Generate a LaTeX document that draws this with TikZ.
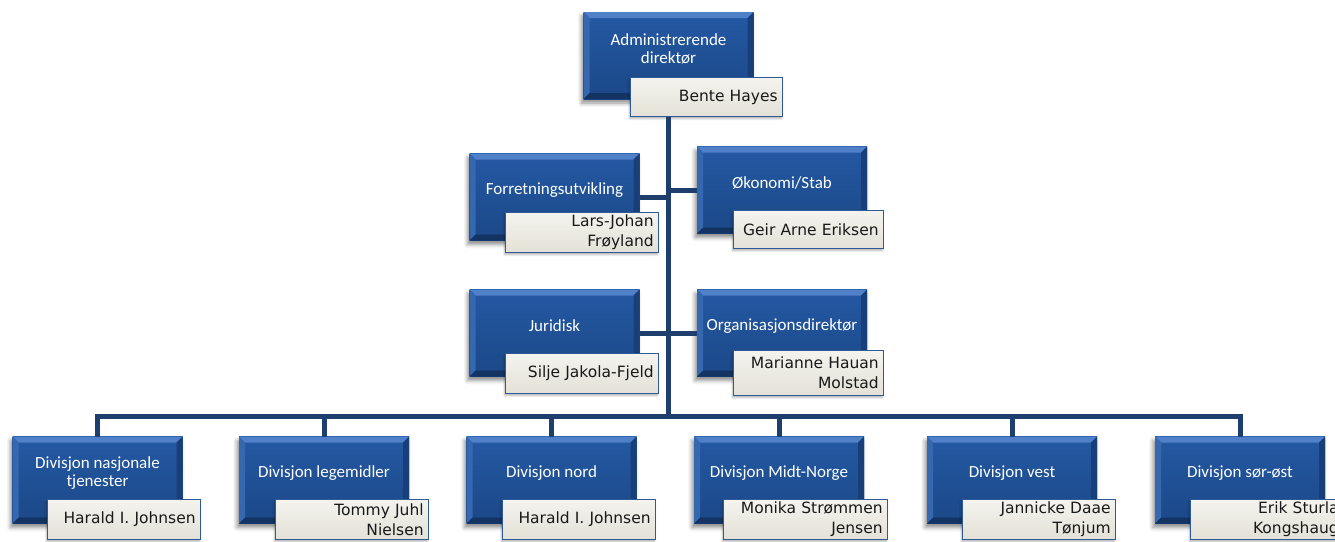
\documentclass[tikz,border=0pt]{standalone}
\usepackage{fontspec}
\setmainfont{Carlito}
\newfontfamily\namefont{DejaVu Sans}
\usetikzlibrary{shadows.blur}

\definecolor{faceTop}{HTML}{2459A4}
\definecolor{faceBot}{HTML}{1B4887}
\definecolor{bevTop}{HTML}{4F80C8}
\definecolor{bevLeft}{HTML}{3668B0}
\definecolor{bevRight}{HTML}{193F78}
\definecolor{bevBot}{HTML}{133463}
\definecolor{nameTop}{HTML}{F4F3EE}
\definecolor{nameBot}{HTML}{E3E1D7}
\definecolor{nameLine}{HTML}{2E5B98}
\definecolor{linkCol}{HTML}{1E3E6E}

\tikzset{
  unitbox/.style={minimum width=170pt, minimum height=87pt, inner sep=0pt, outer sep=0pt,
    top color=faceTop, bottom color=faceBot,
    blur shadow={shadow xshift=-2pt, shadow yshift=-4pt, shadow blur radius=4pt, shadow opacity=45},
    path picture={
      \fill[bevTop] (path picture bounding box.north west) -- (path picture bounding box.north east)
        -- ([xshift=-6pt,yshift=-6pt]path picture bounding box.north east)
        -- ([xshift=6pt,yshift=-6pt]path picture bounding box.north west) -- cycle;
      \fill[bevLeft] (path picture bounding box.north west) -- (path picture bounding box.south west)
        -- ([xshift=6pt,yshift=6pt]path picture bounding box.south west)
        -- ([xshift=6pt,yshift=-6pt]path picture bounding box.north west) -- cycle;
      \fill[bevRight] (path picture bounding box.north east) -- (path picture bounding box.south east)
        -- ([xshift=-6pt,yshift=6pt]path picture bounding box.south east)
        -- ([xshift=-6pt,yshift=-6pt]path picture bounding box.north east) -- cycle;
      \fill[bevBot] (path picture bounding box.south west) -- (path picture bounding box.south east)
        -- ([xshift=-6pt,yshift=6pt]path picture bounding box.south east)
        -- ([xshift=6pt,yshift=6pt]path picture bounding box.south west) -- cycle;
    }},
  unittext/.style={text=white, align=center, yshift=7pt, inner sep=0pt,
    font=\fontsize{17}{18}\selectfont},
  namebox/.style={draw=nameLine, line width=1.3pt, top color=nameTop, bottom color=nameBot,
    anchor=north west, align=right, inner xsep=5pt, inner ysep=0pt, text width=143pt,
    minimum height=40pt, text=black!90,
    font=\namefont\fontsize{15.5}{20}\selectfont,
    blur shadow={shadow xshift=-1pt, shadow yshift=-2pt, shadow blur radius=2pt, shadow opacity=30}},
  link/.style={draw=linkCol, line width=5pt}
}

\newcommand\orgunit[3]{\node[unitbox, label={[unittext]center:{#3}}] (#1) at (#2) {};}

\begin{document}
\begin{tikzpicture}[x=1pt, y=-1pt]
\useasboundingbox (0,0) rectangle (1335,541);

% management boxes
\orgunit{adm}{668.5,55.5}{Administrerende\\direktør}
\orgunit{forr}{554.5,197}{Forretningsutvikling}
\orgunit{okon}{782,190}{Økonomi/Stab}
\orgunit{jur}{554.5,333}{Juridisk}
\orgunit{org}{782,333}{Organisasjonsdirektør}

% divisions
\orgunit{d1}{97.5,480}{Divisjon nasjonale\\tjenester}
\orgunit{d2}{324,480}{Divisjon legemidler}
\orgunit{d3}{551.5,480}{Divisjon nord}
\orgunit{d4}{779,480}{Divisjon Midt-Norge}
\orgunit{d5}{1012,480}{Divisjon vest}
\orgunit{d6}{1240,480}{Divisjon sør-øst}

% person name tags
\node[namebox, text width=142pt, minimum height=39pt] (nadm) at (630,77) {Bente Hayes};
\node[namebox] (nforr) at (505,212) {Lars-Johan\\Frøyland};
\node[namebox, text width=140pt, minimum height=38pt] (nokon) at (733,210) {Geir Arne Eriksen};
\node[namebox] (njur) at (505,353) {Silje Jakola-Fjeld};
\node[namebox, text width=140pt, minimum height=45pt] (norg) at (733,350) {Marianne Hauan\\Molstad};

\node[namebox] (nd1) at (47,499) {Harald I. Johnsen};
\node[namebox] (nd2) at (275,499) {Tommy Juhl\\Nielsen};
\node[namebox] (nd3) at (502,499) {Harald I. Johnsen};
\node[namebox, text width=154pt] (nd4) at (723,499) {Monika Strømmen\\Jensen};
\node[namebox] (nd5) at (962,499) {Jannicke Daae\\Tønjum};
\node[namebox] (nd6) at (1190,499) {Erik Sturla\\Kongshaug};

% reporting lines
\coordinate (bus) at (668.5,416);
\draw[link] (nadm.south -| adm.south) -- (bus);
\draw[link] (forr.east) -- (forr.east -| adm.south);
\draw[link] (okon.west) -- (okon.west -| adm.south);
\draw[link] (jur.east) -- (jur.east -| adm.south);
\draw[link] (org.west) -- (org.west -| adm.south);
\draw[link, line join=miter] (d1.north) |- (bus) -| (d6.north);
\foreach \d in {d2,d3,d4,d5} \draw[link] (\d.north) -- (\d.north |- bus);
\end{tikzpicture}
\end{document}
